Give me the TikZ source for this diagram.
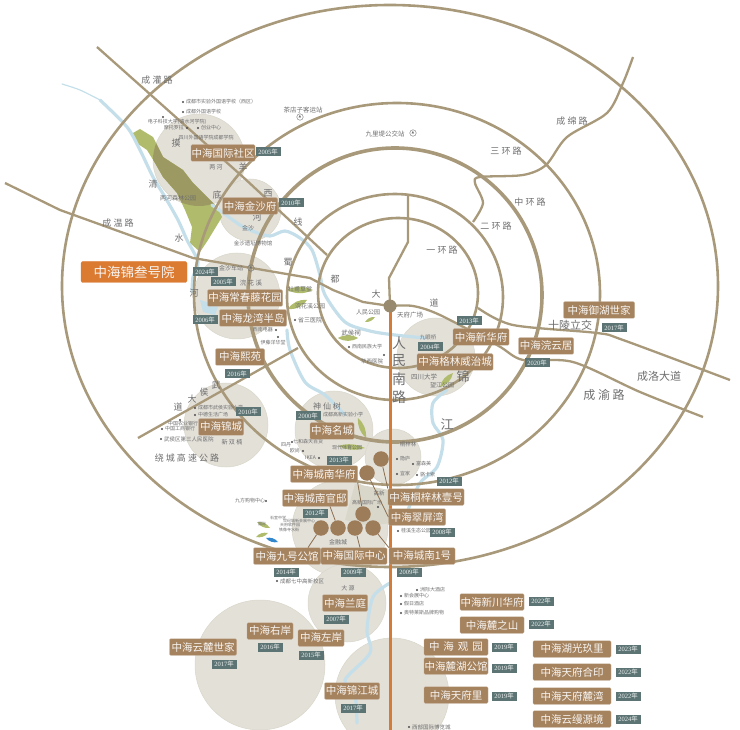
\documentclass[tikz,border=0pt]{standalone}
\usepackage{fontspec}
\usetikzlibrary{positioning}
\setmainfont{Noto Sans CJK SC}
\newfontfamily\numfont{Liberation Serif}
\definecolor{road1}{HTML}{A8997A}
\definecolor{river1}{HTML}{C4DFEA}
\definecolor{zone1}{HTML}{E3E0D8}
\definecolor{zone2}{HTML}{D9D6CA}
\definecolor{park1}{HTML}{B0BC6C}
\definecolor{park2}{HTML}{9C9A62}
\definecolor{brown1}{HTML}{A5835F}
\definecolor{tag1}{HTML}{5C7474}
\definecolor{orange1}{HTML}{DB7B32}
\definecolor{text1}{HTML}{6E6E6E}
\tikzstyle{ring} = [draw=road1, line width=2.6pt]
\tikzstyle{road} = [draw=road1, line width=2.3pt, line join=round]
\tikzstyle{river} = [draw=river1, line width=3.2pt, line join=round, line cap=round]
\tikzstyle{zone} = [fill=zone1, draw=zone2, line width=0.5pt]
\tikzstyle{namebox} = [fill=brown1, draw=brown1!70!white, line width=0.3pt, rounded corners=1.2pt, text=white!92!brown1, inner sep=0pt, minimum width=64pt, minimum height=16.5pt, font=\fontsize{10.5}{11}\selectfont]
\tikzstyle{yearbox} = [fill=tag1, text=white!90!tag1, inner sep=0pt, minimum width=25pt, minimum height=9pt, font=\fontsize{6.5}{7}\selectfont]
\tikzstyle{roadname} = [text=text1, inner sep=0pt, font=\fontsize{9}{10}\selectfont]
\tikzstyle{place} = [text=text1, inner sep=0pt, font=\fontsize{5}{6}\selectfont]
\tikzstyle{spot} = [circle, fill=black!70, inner sep=0pt, minimum size=2.4pt]
\tikzstyle{site} = [circle, fill=brown1!95!black, inner sep=0pt, minimum size=15.5pt]
\tikzstyle{link} = [draw=brown1!85!black, line width=0.8pt]
\tikzstyle{station} = [circle, draw=text1, line width=0.4pt, inner sep=0pt, minimum size=6.5pt, text=text1, font=\fontsize{3.5}{4}\selectfont]
\newfontfamily\symfont{DejaVu Sans}
\newcommand{\yr}[1]{{\numfont #1}年}
\newcommand{\parkshape}{(133,133) -- (140,129) -- (153,137) -- (163,157) -- (183,170) -- (193,183) -- (207,197) -- (217,207) -- (222,217) -- (208,240) -- (200,252) -- (190,243) -- (192,227) -- (185,210) -- (177,193) -- (163,177) -- (155,163) -- (147,150) -- (135,142) -- cycle}

\begin{document}
\begin{tikzpicture}[x=1pt, y=-1pt]
	\useasboundingbox (0,0) rectangle (740,730);

	% Zones
	\fill [zone] (199,160) circle (46pt);
	\fill [zone] (250,210) circle (31pt);
	\fill [zone] (237,296) circle (43pt);
	\fill [zone] (226,425) circle (42pt);
	\fill [zone] (334,430) circle (39pt);
	\fill [zone] (436,357) circle (39pt);
	\fill [zone] (393,457) circle (28pt);
	\fill [zone] (340,528) circle (48pt);
	\fill [zone2] (355,484) -- (390,490) -- (390,523) -- (370,526) -- (345,520) -- cycle;
	\fill [zone] (347,603) circle (39pt);
	\fill [zone] (260,665) circle (65pt);
	\fill [zone] (392,695) circle (57pt);

	% Parks
	\fill [park1] \parkshape;
	\begin{scope}
		\clip (199,160) circle (46pt);
		\fill [park2] \parkshape;
	\end{scope}
	\fill [park1] (287,290) to [bend left=25] (313,290) to [bend left=25] (287,290);
	\fill [park1] (288,309) to [bend left=30] (307,300) to [bend left=30] (288,309);
	\fill [park1] (365,322) to [bend left=30] (375,317) to [bend left=30] (365,322);
	\fill [park1] (338,338) to [bend left=30] (358,338) to [bend left=30] (338,338);
	\fill [park1] (440,387) to [bend left=30] (453,373) to [bend left=30] (440,387);
	\fill [park1] (358,418) to [bend left=25] (366,438) to [bend left=25] (358,418);
	\fill [park1] (338,446) to [bend left=20] (365,448) to [bend left=20] (338,446);
	\fill [park1] (270,528) to [bend left=30] (257,522) to [bend left=30] (270,528);
	\fill [park1] (268,533) to [bend left=30] (256,537) to [bend left=30] (268,533);
	\fill [blue!45!cyan!60!gray] (266,538) to [bend left=30] (278,542) to [bend left=30] (266,538);

	% Rivers
	\draw [river, line width=1.2pt] plot [smooth] coordinates {(62,84) (80,90) (100,100)};
	\draw [river] plot [smooth] coordinates {(100,100) (127,127) (140,150) (153,177) (165,197) (178,220) (187,240) (198,262) (193,277) (192,292)};
	\draw [river] plot [smooth] coordinates {(212,205) (222,212) (240,225) (255,232) (270,236) (285,231) (300,238) (312,250) (320,275) (325,295) (345,322) (370,331) (395,335) (425,338)};
	\draw [river] plot [smooth] coordinates {(287,330) (290,350) (305,382) (325,395) (345,415)};
	\draw [river] plot [smooth] coordinates {(447,390) (433,403) (433,423) (443,440) (437,467) (420,483) (408,510)};
	\draw [river] plot [smooth] coordinates {(390,583) (373,597) (367,630) (370,653) (345,680) (355,695) (357,723)};
	\fill [river1] (200,300) -- (218,306) -- (215,315) -- (203,312) -- cycle;

	% Ring roads
	\draw [ring] (390,286) ellipse [x radius=328pt, y radius=281pt];
	\draw [ring] (397,294) ellipse [x radius=203pt, y radius=191pt];
	\draw [ring, line width=3.6pt] (395,295) ellipse [x radius=147pt, y radius=147pt];
	\draw [ring] (395,297) ellipse [x radius=108pt, y radius=103pt];
	\draw [ring] (398,293) ellipse [x radius=80pt, y radius=75pt];

	% Other roads
	\coordinate (hub) at (390,306);
	\draw [road] (97,47) -- (243,177) -- (327,255);
	\draw [road] (5,183) -- (60,210) -- (193,258) -- (310,278) -- (333,290) -- (363,302) -- (hub);
	\draw [road] (hub) -- (389,278) -- (408,242) -- (408,195);
	\draw [road] plot [smooth] coordinates {(390,306) (413,306) (440,315) (497,345) (523,360) (573,362) (640,392) (703,417)};
	\draw [road] plot [smooth] coordinates {(478,308) (513,325) (597,333) (623,340) (730,380)};
	\draw [road] plot [smooth] coordinates {(633,57) (623,83) (607,113) (567,137) (546,165) (523,175) (480,177) (475,183) (483,203) (473,222)};
	\draw [road] (138,438) -- (298,348);
	\draw [draw=orange1!85!brown1, line width=3pt] (hub) -- (390,730);
	\fill [road1!90!black] (hub) circle (6.5pt);

	% Road names
	\node [roadname] (chengguan) at (157,80) {成 灌 路};
	\node [roadname] (chengwen) at (118,223) {成 温 路};
	\node [roadname] (raocheng) at (187,458) {绕 城 高 速 公 路};
	\node [roadname] (chengmian) at (572,121) {成 绵 路};
	\node [roadname] (sanhuan) at (506,151) {三 环 路};
	\node [roadname] (zhonghuan) at (530,202) {中 环 路};
	\node [roadname] (erhuan) at (496,226) {二 环 路};
	\node [roadname] (yihuan) at (442,250) {一 环 路};
	\node [roadname, font=\fontsize{11}{12}\selectfont] (shiling) at (570,325) {十陵立交};
	\node [roadname, font=\fontsize{11}{12}\selectfont] (chengluo) at (659,376) {成洛大道};
	\node [roadname, font=\fontsize{12}{13}\selectfont] (chengyu) at (604,395) {成 渝 路};
	\node [roadname] (mo) at (176,143) {摸};
	\node [roadname] (di) at (217,195) {底};
	\node [roadname] (he1) at (257,217) {河};
	\node [roadname] (qing) at (153,184) {清};
	\node [roadname] (shui) at (179,238) {水};
	\node [roadname] (he2) at (194,293) {河};
	\node [roadname] (yang) at (243,167) {羊};
	\node [roadname] (xi) at (268,193) {西};
	\node [roadname] (xian) at (298,222) {线};
	\node [roadname] (shu) at (288,262) {蜀};
	\node [roadname] (du) at (335,279) {都};
	\node [roadname] (da1) at (376,294) {大};
	\node [roadname] (dao1) at (434,303) {道};
	\node [roadname] (wu) at (216,385) {武};
	\node [roadname] (hou) at (204,392) {侯};
	\node [roadname] (da2) at (192,399) {大};
	\node [roadname] (dao2) at (178,407) {道};
	\node [roadname, font=\fontsize{14}{15}\selectfont] (ren) at (399,343) {人};
	\node [roadname, font=\fontsize{14}{15}\selectfont] (min) at (399,361) {民};
	\node [roadname, font=\fontsize{14}{15}\selectfont] (nan) at (399,379) {南};
	\node [roadname, font=\fontsize{14}{15}\selectfont] (lu) at (399,397) {路};
	\node [roadname, font=\fontsize{13}{14}\selectfont] (jin) at (463,377) {锦};
	\node [roadname, font=\fontsize{13}{14}\selectfont] (jiang) at (447,425) {江};

	% Places
	\node [place, font=\fontsize{6.5}{7}\selectfont] (chadian) at (303,110) {茶店子客运站};
	\node [station] (chadianicon) at (300,117) {\symfont ▲};
	\node [place, font=\fontsize{6.5}{7}\selectfont] (jiuli) at (385,134) {九里堤公交站};
	\node [station] (jiuliicon) at (413,133) {\symfont ▲};
	\node [spot] (s1) at (183,102) {};
	\node [place, right=1.5pt of s1] (p1) {成都市实验外国语学校（西区）};
	\node [spot] (s2) at (183,112) {};
	\node [place, right=1.5pt of s2] (p2) {成都外国语学校};
	\node [spot] (s3) at (163,117) {};
	\node [place] (p3) at (177,122) {电子科技大学(清水河学院)};
	\node [spot] (s4) at (187,128) {};
	\node [place, left=1.5pt of s4] (p4) {摩托罗拉};
	\node [spot] (s5) at (198,128) {};
	\node [place, right=1.5pt of s5] (p5) {创业中心};
	\node [place] (p6) at (206,138) {四川外国语学院成都学院};
	\node [place, font=\fontsize{6}{7}\selectfont] (lianghe) at (216,167) {两 河};
	\node [place, font=\fontsize{6}{7}\selectfont] (senlin) at (178,198) {两河森林公园};
	\node [place, font=\fontsize{6}{7}\selectfont] (jinsha) at (248,228) {金沙};
	\node [place, font=\fontsize{5.5}{6}\selectfont] (yizhi) at (253,243) {金沙遗址博物馆};
	\node [place, font=\fontsize{6}{7}\selectfont] (jinshazhan) at (231,268) {金沙车站};
	\node [station] (jinshaicon) at (251,268) {\symfont ▲};
	\node [place, font=\fontsize{6.5}{7}\selectfont] (huanhua) at (251,283) {浣 花 溪};
	\node [place, font=\fontsize{6}{7}\selectfont] (caotang) at (300,289) {杜甫草堂};
	\node [place, font=\fontsize{6}{7}\selectfont] (huanpark) at (310,306) {浣花溪公园};
	\node [spot] (s7) at (295,320) {};
	\node [place, right=1.5pt of s7, font=\fontsize{6}{7}\selectfont] (p7) {省三医院};
	\node [spot] (s8) at (276,330) {};
	\node [place, left=1.5pt of s8] (p8) {西南电器};
	\node [spot] (s9) at (278,337) {};
	\node [place] (p9) at (273,343) {伊藤洋华堂};
	\node [place, font=\fontsize{6}{7}\selectfont] (renmin) at (368,312) {人民公园};
	\node [place, font=\fontsize{6.5}{7}\selectfont] (tianfu) at (410,315) {天府广场};
	\node [place, font=\fontsize{5.5}{6}\selectfont] (jiuyan) at (428,337) {九眼桥};
	\node [place, font=\fontsize{6.5}{7}\selectfont] (wuhouci) at (351,333) {武侯祠};
	\node [spot] (s10) at (349,347) {};
	\node [place, right=1.5pt of s10] (p10) {西南民族大学};
	\node [spot] (s11) at (384,355) {};
	\node [place, font=\fontsize{5.5}{6}\selectfont] (p11) at (372,361) {华西医院};
	\node [place, font=\fontsize{6.5}{7}\selectfont] (sichuan) at (424,377) {四川大学};
	\node [place, font=\fontsize{6}{7}\selectfont] (wangjiang) at (442,385) {望江公园};
	\node [place, font=\fontsize{8}{9}\selectfont] (shenxian) at (327,406) {神 仙 树};
	\node [place] (gaoxin) at (343,415) {成都高新实验小学};
	\node [place] (xiandai) at (347,448) {现代体育公园};
	\node [spot] (s12) at (292,442) {};
	\node [place] (qihe) at (308,442) {七和森天百货};
	\node [place] (simo) at (286,445) {四丹};
	\node [spot] (s13) at (303,451) {};
	\node [place, left=1.5pt of s13] (oushang) {欧尚};
	\node [spot] (s14) at (319,458) {};
	\node [place, left=1.5pt of s14] (ikea) {IKEA};
	\node [place, font=\fontsize{5.5}{6}\selectfont] (tongzi) at (408,444) {桐梓林};
	\node [spot] (s15) at (397,459) {};
	\node [place, right=1.5pt of s15] (p15) {隐庐};
	\node [spot] (s16) at (413,464) {};
	\node [place, right=1.5pt of s16] (p16) {富森美};
	\node [spot] (s17) at (397,474) {};
	\node [place, right=1.5pt of s17] (p17) {宜家};
	\node [spot] (s18) at (417,475) {};
	\node [place, right=1.5pt of s18] (p18) {骆卡索};
	\node [place, font=\fontsize{5.5}{6}\selectfont] (gaoxinqu) at (379,493) {高新};
	\node [place] (yizhou) at (367,503) {高新国际广场};
	\node [spot] (s19) at (378,507) {};
	\node [place] (jiufang) at (250,501) {九方购物中心};
	\node [spot] (s20) at (266,501) {};
	\node [place, font=\fontsize{4}{5}\selectfont] (shishi) at (278,518) {石室中学};
	\node [place, font=\fontsize{4}{5}\selectfont] (shiji) at (299,521) {世纪城新会展中心};
	\node [place, font=\fontsize{4}{5}\selectfont] (ruanjian) at (290,525) {天府软件园};
	\node [place, font=\fontsize{4}{5}\selectfont] (guoji2) at (262,524) {国际};
	\node [place, font=\fontsize{4}{5}\selectfont] (tiexiang) at (289,530) {铁像寺水街};
	\node [place, font=\fontsize{6}{7}\selectfont] (jinrong) at (338,542) {金融城};
	\node [spot] (s21) at (398,531) {};
	\node [place, right=1.5pt of s21] (p21) {桂溪生态公园};
	\node [spot] (s22) at (277,581) {};
	\node [place, right=1.5pt of s22, font=\fontsize{5.5}{6}\selectfont] (p22) {成都七中高新校区};
	\node [place, font=\fontsize{6}{7}\selectfont] (dayuan) at (348,588) {大 源};
	\node [spot] (s23) at (417,590) {};
	\node [place, right=1.5pt of s23] (p23) {洲际大酒店};
	\node [spot] (s24) at (401,596) {};
	\node [place, right=1.5pt of s24] (p24) {新会展中心};
	\node [spot] (s25) at (401,604) {};
	\node [place, right=1.5pt of s25] (p25) {假日酒店};
	\node [spot] (s26) at (401,613) {};
	\node [place, right=1.5pt of s26] (p26) {奥特莱斯品牌购物};
	\node [spot] (s27) at (409,727) {};
	\node [place, right=1.5pt of s27, font=\fontsize{5.5}{6}\selectfont] (p27) {西部国际博览城};
	\node [spot] (s28) at (180,420) {};
	\node [place] (p28) at (183,424) {中国农业银行};
	\node [spot] (s29) at (162,429) {};
	\node [place, right=1.5pt of s29] (p29) {中国工商银行};
	\node [spot] (s30) at (161,439) {};
	\node [place, right=1.5pt of s30, font=\fontsize{5.5}{6}\selectfont] (p30) {武侯区第三人民医院};
	\node [spot] (s31) at (195,408) {};
	\node [place, right=1.5pt of s31] (p31) {成都市武侯实验小学};
	\node [spot] (s32) at (195,415) {};
	\node [place, right=1.5pt of s32] (p32) {中德生活广场};
	\node [place, font=\fontsize{6}{7}\selectfont] (xinshuang) at (232,442) {新 双 楠};

	% Sites
	\node [site] (tong) at (381,459) {};
	\node [site] (cui) at (367,473) {};
	\node [site] (hua) at (363,514) {};
	\node [site] (jiu) at (321,528) {};
	\node [site] (guan) at (338,528) {};
	\node [site] (guo) at (355,528) {};
	\node [site] (nanyi) at (373,528) {};

	% Projects
	\node [namebox] (guojisq) at (223,153) {中海国际社区};
	\node [namebox, minimum width=55pt] (jinshafu) at (250,206) {中海金沙府};
	\node [namebox, fill=orange1, draw=orange1, minimum width=106pt, minimum height=21pt, rounded corners=2pt, font=\fontsize{13.5}{14}\selectfont] (jinsan) at (134,272) {中海锦叁号院};
	\node [namebox, minimum width=75pt] (changchun) at (245,298) {中海常春藤花园};
	\node [namebox, minimum width=67pt] (longwan) at (253,318) {中海龙湾半岛};
	\node [namebox, minimum width=49pt] (xiyuan) at (240,357) {中海熙苑};
	\node [namebox, minimum width=45pt] (jincheng) at (221,427) {中海锦城};
	\node [namebox, minimum width=44pt] (mingcheng) at (332,431) {中海名城};
	\node [namebox, minimum width=67pt] (huafu) at (324,474) {中海城南华府};
	\node [namebox, minimum width=56pt] (xinhua) at (481,337) {中海新华府};
	\node [namebox, minimum width=76pt] (gelin) at (455,362) {中海格林威治城};
	\node [namebox, minimum width=65pt] (guandi) at (315,498) {中海城南官邸};
	\node [namebox, minimum width=76pt] (tongzilin) at (426,497) {中海桐梓林壹号};
	\node [namebox, minimum width=57pt] (cuiping) at (417,517) {中海翠屏湾};
	\node [namebox, minimum width=67pt] (jiuhao) at (287,556) {中海九号公馆};
	\node [namebox, minimum width=66pt] (guojizx) at (354,556) {中海国际中心};
	\node [namebox, minimum width=66pt] (nan1) at (422,556) {中海城南1号};
	\node [namebox, minimum width=45pt] (lanting) at (345,603) {中海兰庭};
	\node [namebox, minimum width=46pt] (youan) at (270,631) {中海右岸};
	\node [namebox, minimum width=46pt] (zuoan) at (321,638) {中海左岸};
	\node [namebox, minimum width=67pt] (yunlu) at (203,647) {中海云麓世家};
	\node [namebox, minimum width=55pt] (jinjiang) at (352,691) {中海锦江城};
	\node [namebox] (xinchuan) at (492,602) {中海新川华府};
	\node [namebox] (luzhi) at (492,625) {中海麓之山};
	\node [namebox] (guanyuan) at (456,647) {中\hspace{4pt}海\hspace{4pt}观\hspace{4pt}园};
	\node [namebox] (luhu) at (456,666) {中海麓湖公馆};
	\node [namebox] (tianfuli) at (456,695) {中海天府里};
	\node [namebox, minimum width=78pt] (huguang) at (572,649) {中海湖光玖里};
	\node [namebox, minimum width=78pt] (heyin) at (572,672) {中海天府合印};
	\node [namebox, minimum width=78pt] (luwan) at (572,696) {中海天府麓湾};
	\node [namebox, minimum width=78pt] (yunman) at (572,719) {中海云缦源境};
	\node [namebox, minimum width=71pt] (yuhu) at (599,310) {中海御湖世家};
	\node [namebox, minimum width=55pt] (huanyun) at (546,346) {中海浣云居};

	% Links
	\draw [link] (tong) -- (tongzilin.north west);
	\draw [link] (cui) -- (cuiping.west);
	\draw [link] (hua) -- (huafu.south east);
	\draw [link] (jiu) -- ([xshift=21pt] jiuhao.north);
	\draw [link] (guan) -- ([xshift=15pt] guandi.south);
	\draw [link] (guo) -- ([xshift=6pt] guojizx.north);
	\draw [link] (nanyi) -- (nan1.north west);

	% Years
	\node [yearbox] (y1) at (268,152) {\yr{2005}};
	\node [yearbox] (y2) at (291,203) {\yr{2010}};
	\node [yearbox] (y3) at (205,272) {\yr{2024}};
	\node [yearbox] (y4) at (223,282) {\yr{2005}};
	\node [yearbox] (y5) at (205,320) {\yr{2006}};
	\node [yearbox] (y6) at (237,374) {\yr{2016}};
	\node [yearbox] (y7) at (248,412) {\yr{2010}};
	\node [yearbox] (y8) at (308,416) {\yr{2000}};
	\node [yearbox] (y9) at (339,460) {\yr{2013}};
	\node [yearbox] (y10) at (449,481) {\yr{2012}};
	\node [yearbox] (y11) at (469,321) {\yr{2013}};
	\node [yearbox] (y12) at (430,347) {\yr{2004}};
	\node [yearbox] (y13) at (315,513) {\yr{2012}};
	\node [yearbox] (y14) at (442,532) {\yr{2008}};
	\node [yearbox] (y15) at (286,572) {\yr{2014}};
	\node [yearbox] (y16) at (353,572) {\yr{2009}};
	\node [yearbox] (y17) at (409,572) {\yr{2009}};
	\node [yearbox] (y18) at (336,619) {\yr{2007}};
	\node [yearbox] (y19) at (270,647) {\yr{2016}};
	\node [yearbox] (y20) at (311,655) {\yr{2015}};
	\node [yearbox] (y21) at (224,664) {\yr{2017}};
	\node [yearbox] (y22) at (353,708) {\yr{2017}};
	\node [yearbox] (y23) at (541,601) {\yr{2022}};
	\node [yearbox] (y24) at (541,624) {\yr{2022}};
	\node [yearbox] (y25) at (504,647) {\yr{2019}};
	\node [yearbox] (y26) at (504,668) {\yr{2019}};
	\node [yearbox] (y27) at (504,696) {\yr{2019}};
	\node [yearbox] (y28) at (628,649) {\yr{2023}};
	\node [yearbox] (y29) at (628,672) {\yr{2022}};
	\node [yearbox] (y30) at (628,696) {\yr{2022}};
	\node [yearbox] (y31) at (628,719) {\yr{2024}};
	\node [yearbox] (y32) at (614,328) {\yr{2017}};
	\node [yearbox] (y33) at (537,363) {\yr{2020}};
\end{tikzpicture}
\end{document}
